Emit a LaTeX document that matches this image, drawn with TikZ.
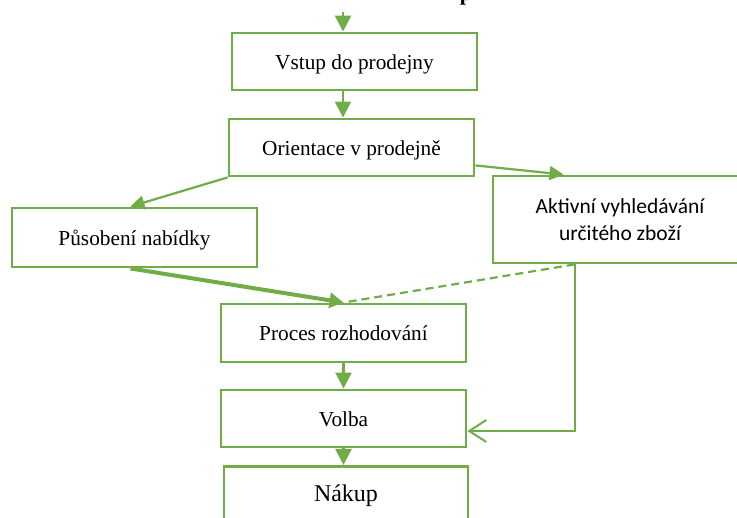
\documentclass[tikz,border=0pt]{standalone}
\usepackage{fontspec}
\setmainfont{Liberation Serif}
\newfontfamily\sansbody{Carlito}
\usetikzlibrary{arrows.meta,calc}
\definecolor{flowgreen}{HTML}{70AD47}

\begin{document}
\begin{tikzpicture}[x=1pt,y=-1pt,
  box/.style={draw=flowgreen, line width=2.9pt, fill=white, inner sep=0pt,
              minimum width=245pt, minimum height=57pt},
  lbl/.style={font=\fontsize{21.3}{26}\selectfont, text height=20pt, text depth=4pt},
  link/.style={draw=flowgreen, line width=2.6pt, -{Triangle[length=16pt,width=16pt]}},
  thicklink/.style={draw=flowgreen, line width=4pt, -{Triangle[length=14pt,width=15pt]}},
  slimlink/.style={draw=flowgreen, line width=2.2pt, -{Triangle[length=14pt,width=14pt]}},
  hint/.style={draw=flowgreen, line width=2.2pt, dash pattern=on 8pt off 5pt},
  openlink/.style={draw=flowgreen, line width=2pt, -{Straight Barb[length=17pt,width=22pt]}}]

  \useasboundingbox (0,0) rectangle (737,518);

  % tail of the heading above the chart
  \node[font=\bfseries\fontsize{22}{26}\selectfont, anchor=base, inner sep=0pt]
    (headtail) at (466,0.5) {p};

  % boxes
  \node[box, lbl] (vstup) at (354.5,61.5) {Vstup do prodejny};
  \node[box, lbl] (ori)   at (351.5,147.5) {Orientace v prodejně};
  \node[box, lbl, minimum height=59pt] (pus) at (134.5,237.5) {Působení nabídky};
  \node[box, minimum width=254pt, minimum height=87pt, align=center,
        font=\sansbody\fontsize{21.5}{27}\selectfont] (akt) at (620,219.5)
        {Aktivní vyhledávání\\určitého zboží};
  \node[box, lbl, minimum height=58pt] (proc)  at (343.5,333) {Proces rozhodování};
  \node[box, lbl] (volba) at (343.5,418.5) {Volba};
  \node[box, minimum width=244pt, minimum height=80pt, anchor=north] (nakup) at (346,465) {};
  \node[font=\fontsize{24}{28}\selectfont, anchor=base, inner sep=0pt] (nakuptext) at (346,502) {Nákup};

  % connectors
  \coordinate (entry) at (343,12);
  \coordinate (aktout) at ($(akt.south west)+(83,0)$);

  \draw[link] (entry) -- (entry |- vstup.north);
  \draw[link] (entry |- vstup.south) -- (entry |- ori.north);
  \draw[slimlink] (ori.south west) -- ($(pus.north)+(-4,0)$);
  \draw[slimlink] ($(ori.south east)+(0,-12)$) -- ($(akt.north west)+(72,0)$);
  \draw[thicklink] ($(pus.south)+(-4,0)$) -- (proc.north);
  \draw[hint] (aktout) -- (proc.north);
  \draw[link] (proc.south) -- (volba.north);
  \draw[link] (volba.south) -- (volba.south |- nakup.north);
  \draw[openlink] (aktout) |- ($(volba.east)+(0,12.5)$);
\end{tikzpicture}
\end{document}
